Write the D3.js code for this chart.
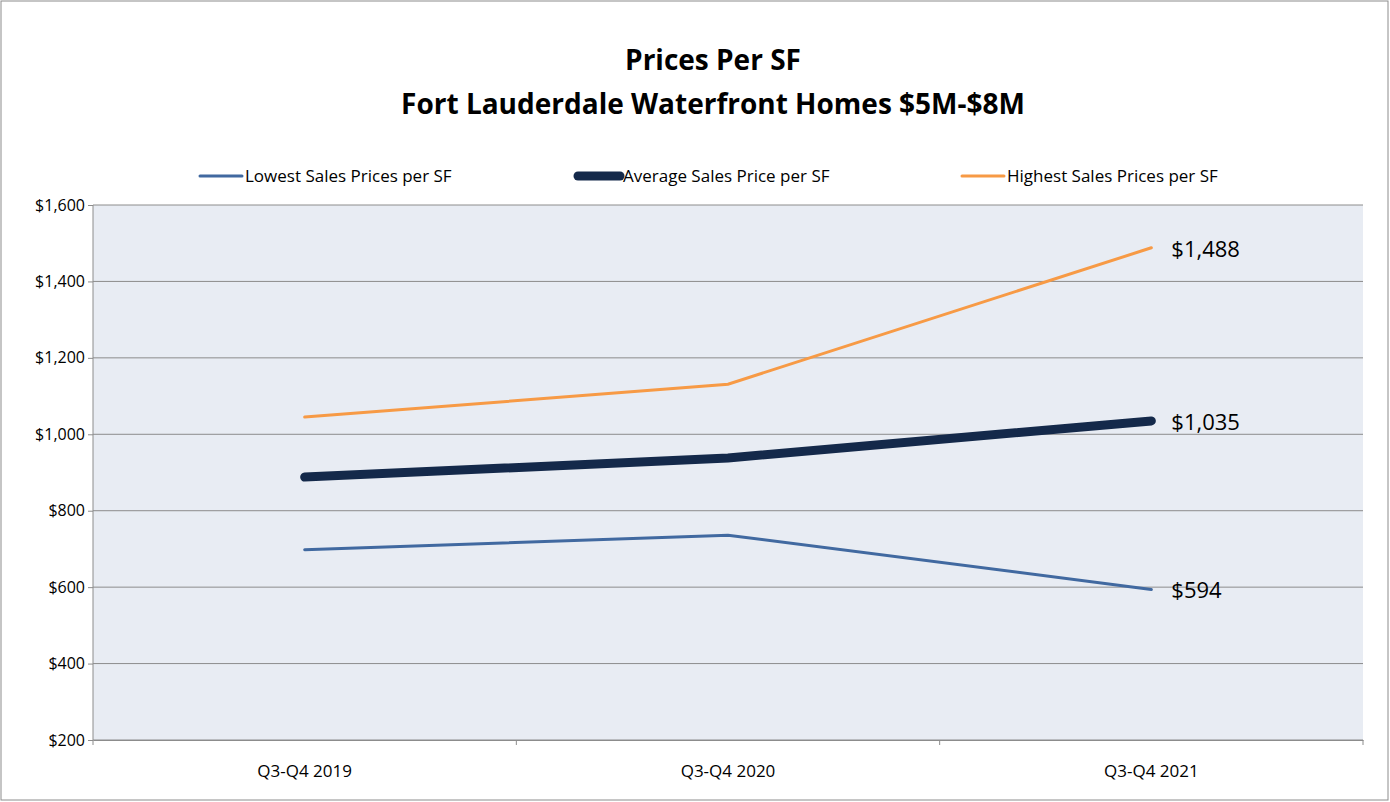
<!DOCTYPE html>
<html><head><meta charset="utf-8">
<script src="https://cdn.jsdelivr.net/npm/d3@7"></script>
<style>body{margin:0;background:#fff}text{font-family:"Open Sans",sans-serif}</style>
</head><body>
<svg id="chart" width="1390" height="802"></svg>
<script>
const categories = ["Q3-Q4 2019", "Q3-Q4 2020", "Q3-Q4 2021"];
const lowest = [698, 736, 594];
const average = [888, 938, 1035];
const highest = [1045, 1131, 1488];
const yTicks = [200, 400, 600, 800, 1000, 1200, 1400, 1600];

const series = [
  { name: "Lowest Sales Prices per SF", values: lowest, color: "#4169a0", width: 3 },
  { name: "Average Sales Price per SF", values: average, color: "#14294a", width: 9 },
  { name: "Highest Sales Prices per SF", values: highest, color: "#f79a45", width: 3 }
];

const svg = d3.select("#chart");
svg.append("rect").attr("x", 1).attr("y", 1).attr("width", 1387).attr("height", 799)
  .attr("fill", "#fff").attr("stroke", "#8c8c8c");

const plotL = 93, plotR = 1363, plotT = 205, plotB = 740;
const x = d3.scaleBand().domain(categories).range([plotL, plotR]);
const y = d3.scaleLinear().domain([200, 1600]).range([plotB, plotT]);
const fmt = v => "$" + d3.format(",")(v);

svg.append("rect").attr("x", plotL).attr("y", plotT).attr("width", plotR - plotL).attr("height", plotB - plotT)
  .attr("fill", "#e8ecf3");

svg.append("g").selectAll("line").data(yTicks).join("line")
  .attr("x1", plotL).attr("x2", plotR).attr("y1", d => y(d)).attr("y2", d => y(d))
  .attr("stroke", "#8c8c8c").attr("stroke-width", 1);
svg.append("line").attr("x1", plotL).attr("x2", plotL).attr("y1", plotT).attr("y2", plotB).attr("stroke", "#8c8c8c");

const yAxis = svg.append("g").attr("transform", `translate(${plotL},0)`)
  .call(d3.axisLeft(y).tickValues(yTicks).tickFormat(fmt).tickSize(5));
yAxis.select(".domain").remove();
yAxis.selectAll("line").attr("stroke", "#8c8c8c");
yAxis.selectAll("text").attr("font-size", 16).attr("fill", "#000");

const xAxis = svg.append("g").attr("transform", `translate(0,${plotB})`)
  .call(d3.axisBottom(x).tickSize(0).tickPadding(25));
xAxis.select(".domain").attr("stroke", "#8c8c8c");
xAxis.selectAll("text").attr("font-size", 17).attr("fill", "#000");
svg.append("g").selectAll("line").data(categories.map(c => x(c)).concat([plotR])).join("line")
  .attr("x1", d => d).attr("x2", d => d).attr("y1", plotB).attr("y2", plotB + 5).attr("stroke", "#8c8c8c");

const line = d3.line().x((d, i) => x(categories[i]) + x.bandwidth() / 2).y(d => y(d));
series.forEach(s => {
  svg.append("path").attr("d", line(s.values)).attr("fill", "none")
    .attr("stroke", s.color).attr("stroke-width", s.width).attr("stroke-linecap", "round");
  const last = s.values[s.values.length - 1];
  svg.append("text").attr("x", x(categories[2]) + x.bandwidth() / 2 + 20).attr("y", y(last) + 9)
    .attr("font-size", 22).text(fmt(last));
});

const title = svg.append("text").attr("text-anchor", "middle").attr("font-weight", "bold").attr("font-size", 28);
title.append("tspan").attr("x", 713).attr("y", 70).text("Prices Per SF");
title.append("tspan").attr("x", 713).attr("y", 114).text("Fort Lauderdale Waterfront Homes $5M-$8M");

const legX = [200, 578, 962];
series.forEach((s, i) => {
  svg.append("line").attr("x1", legX[i]).attr("x2", legX[i] + 42).attr("y1", 176).attr("y2", 176)
    .attr("stroke", s.color).attr("stroke-width", s.width).attr("stroke-linecap", "round");
  svg.append("text").attr("x", legX[i] + 45).attr("y", 182).attr("font-size", 17).text(s.name);
});
</script>
</body></html>
